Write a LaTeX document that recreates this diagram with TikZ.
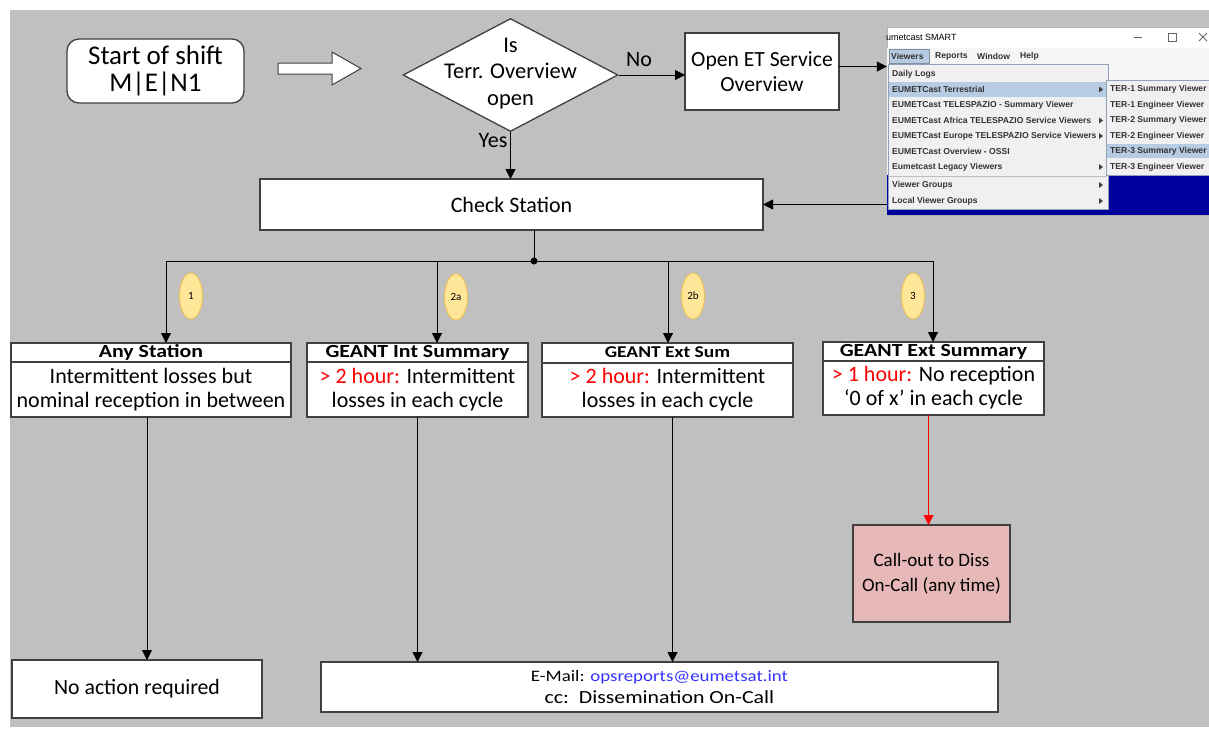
\documentclass[tikz,border=0pt]{standalone}
\usepackage{fontspec}
\setmainfont{Carlito}
\newfontfamily\wideface[FakeStretch=1.18]{Carlito}
\newfontfamily\menufont{Liberation Sans}
\usetikzlibrary{positioning,arrows.meta,shapes.geometric}
\definecolor{sheetgray}{HTML}{C0C0C0}
\definecolor{tagfill}{HTML}{FFE699}
\definecolor{tagdraw}{HTML}{F2C04A}
\definecolor{callfill}{HTML}{E6B8B7}
\definecolor{menublue}{HTML}{B7CBE2}
\definecolor{winblue}{HTML}{00009C}
\definecolor{mailblue}{HTML}{3333FF}
\newcommand{\fsz}[2]{\fontsize{#1}{#2}\selectfont}
\newcommand{\menutri}[1]{\fill[black!75] (1099,#1) ++(0,-3) -- ++(4,3) -- ++(-4,3) -- cycle;}

\begin{document}
\begin{tikzpicture}[x=1pt,y=-1pt,
 box/.style={draw=black!75,line width=1.3pt,fill=white,align=center,inner sep=0pt,outer sep=0pt},
 hd/.style={box,font=\wideface\bfseries\fsz{18.5}{20},text height=13pt,text depth=4pt},
 bd/.style={box,font=\fsz{22}{24}},
 tag/.style={ellipse,draw=tagdraw,fill=tagfill,line width=0.8pt,minimum width=23pt,minimum height=46pt,inner sep=0pt,font=\fsz{11}{12}},
 lbl/.style={font=\fsz{22}{22},inner sep=0pt},
 arr/.style={-{Triangle[length=10pt,width=10pt]},line width=1pt},
 item/.style={anchor=west,inner sep=0pt,font=\menufont\bfseries\fsz{8.6}{9},text=black!80}]
\useasboundingbox (0,0) rectangle (1209,728);
\fill[sheetgray] (10,10) rectangle (1209,727);

% start and decision
\node[box,rounded corners=12pt,minimum width=177pt,minimum height=64pt,font=\fsz{27}{27}] (start) at (155.5,71) {Start of shift\\M|E|N1};
\draw[draw=black!75,fill=white,line width=1pt] (278,63) -- (332,63) -- (332,52) -- (361,68.5) -- (332,85) -- (332,74) -- (278,74) -- cycle;
\node[diamond,draw=black!75,fill=white,line width=1.3pt,minimum width=215pt,minimum height=113pt,inner sep=0pt] (isopen) at (510.5,75) {};
\node[font=\fsz{22.5}{26.5},align=center,inner sep=0pt] (isopentxt) at (510.5,73.5) {Is\\Terr. Overview\\open};
\node[box,minimum width=154pt,minimum height=77pt,font=\fsz{21.6}{25}] (openet) at (762,71.5) {Open ET Service\\Overview};
\draw[arr] (isopen.east) -- (isopen.east -| openet.west);
\node[lbl] (nolbl) at (639,60) {No};

% screenshot of the SMART menu
\node[draw=black!30,fill=white,minimum width=322pt,minimum height=188pt,inner sep=0pt] (shot) at (1048,121) {};
\begin{scope}
\clip (shot.south west) rectangle (shot.north east);
\fill[black!4] (887,48) rectangle (1209,215);
\node[anchor=west,inner sep=0pt,font=\menufont\fsz{9}{10}] (wintitle) at (881,37) {eumetcast SMART};
\draw[black!60,line width=0.8pt] (1134,37) -- (1142,37);
\draw[black!60,line width=0.8pt] (1168,33) rectangle (1176,41);
\draw[black!60,line width=0.8pt] (1199,33) -- (1207,41) (1199,41) -- (1207,33);
\draw[fill=menublue,draw=menublue!70!black] (889,49) rectangle (929,63);
\node[item] (mviewers) at (891,56) {Viewers}; \node[item] (mreports) at (935,56) {Reports};
\node[item] (mwindow) at (977,56) {Window}; \node[item] (mhelp) at (1020,56) {Help};
\fill[winblue] (887,175) rectangle (1209,215);
\draw[fill=black!6,draw=menublue!80!black] (888,64) rectangle (1108,209);
\fill[menublue] (889,82) rectangle (1107,97);
\draw[black!25] (889,176) -- (1107,176);
\node[item] (mlogs) at (892,74) {Daily Logs};
\node[item] (mterr) at (892,89.5) {EUMETCast Terrestrial};
\node[item] (mtele) at (892,105) {EUMETCast TELESPAZIO - Summary Viewer};
\node[item] (mafrica) at (892,120.5) {EUMETCast Africa TELESPAZIO Service Viewers};
\node[item] (meurope) at (892,136) {EUMETCast Europe TELESPAZIO Service Viewers};
\node[item] (mossi) at (892,151.5) {EUMETCast Overview - OSSI};
\node[item] (mlegacy) at (892,167) {Eumetcast Legacy Viewers};
\node[item] (mgroups) at (892,185) {Viewer Groups};
\node[item] (mlocal) at (892,201) {Local Viewer Groups};
\menutri{89.5} \menutri{120.5} \menutri{136} \menutri{167} \menutri{185} \menutri{201}
\draw[fill=black!6,draw=menublue!80!black] (1106,80) rectangle (1215,175);
\fill[menublue] (1107,144) rectangle (1215,158);
\node[item] (ter1s) at (1110,89.5) {TER-1 Summary Viewer};
\node[item] (ter1e) at (1110,105) {TER-1 Engineer Viewer};
\node[item] (ter2s) at (1110,120.5) {TER-2 Summary Viewer};
\node[item] (ter2e) at (1110,136) {TER-2 Engineer Viewer};
\node[item] (ter3s) at (1110,151.5) {TER-3 Summary Viewer};
\node[item] (ter3e) at (1110,167) {TER-3 Engineer Viewer};
\end{scope}
\draw[arr] ([yshift=5pt]openet.east) -- ([yshift=5pt]openet.east -| shot.west);

% check station and the four branches
\node[box,minimum width=503pt,minimum height=51pt,font=\fsz{22}{22}] (check) at (511.5,204.5) {Check Station};
\draw[arr] (isopen.south) -- (isopen.south |- check.north);
\node[lbl] (yeslbl) at (493,141) {Yes};
\draw[arr] (shot.west |- check.east) -- (check.east);
\coordinate (jn) at (534,261);
\coordinate (bus1) at (166,261); \coordinate (bus2a) at (437,261);
\coordinate (bus2b) at (668,261); \coordinate (bus3) at (933,261);
\draw[line width=1pt] (check.south -| jn) -- (jn); \fill (jn) circle (3.5pt);
\draw[line width=1pt] (bus1) -- (bus3);

\node[hd,minimum width=280pt,minimum height=19pt] (anyhd) at (151,352.5) {Any Station};
\node[bd,minimum width=280pt,minimum height=55pt,below=0pt of anyhd] (anybd) {Intermittent losses but\\nominal reception in between};
\node[hd,minimum width=221pt,minimum height=19pt] (inthd) at (417.5,352.5) {GEANT Int Summary};
\node[bd,minimum width=221pt,minimum height=55pt,below=0pt of inthd] (intbd) {\textcolor{red}{> 2 hour:} Intermittent\\losses in each cycle};
\node[hd,font=\wideface\bfseries\fsz{16.5}{18},minimum width=251pt,minimum height=20pt] (exthd) at (667.5,353) {GEANT Ext Sum};
\node[bd,minimum width=251pt,minimum height=54pt,below=0pt of exthd] (extbd) {\textcolor{red}{> 2 hour:} Intermittent\\losses in each cycle};
\node[hd,minimum width=221pt,minimum height=19pt] (xshd) at (933.5,351.5) {GEANT Ext Summary};
\node[bd,minimum width=221pt,minimum height=54pt,below=0pt of xshd] (xsbd) {\textcolor{red}{> 1 hour:} No reception\\‘0 of x’ in each cycle};

\draw[arr] (bus1) -- (bus1 |- anyhd.north);
\draw[arr] (bus2a) -- (bus2a |- inthd.north);
\draw[arr] (bus2b) -- (bus2b |- exthd.north);
\draw[arr] (bus3) -- (bus3 |- xshd.north);
\node[tag] (tag1) at (191,296) {1}; \node[tag] (tag2a) at (456,297) {2a};
\node[tag] (tag2b) at (693,296) {2b}; \node[tag] (tag3) at (913,296) {3};

% outcomes
\node[box,minimum width=250pt,minimum height=58pt,font=\fsz{21.8}{22}] (noact) at (137,689) {No action required};
\node[box,minimum width=677pt,minimum height=50pt,font=\wideface\fsz{16}{22}] (mail) at (659.5,687) {E-Mail: \textcolor{mailblue}{opsreports@eumetsat.int}\\{\fsz{18.5}{22}cc:\ \ Dissemination On-Call}};
\node[box,fill=callfill,minimum width=157pt,minimum height=97pt,font=\fsz{19}{25}] (callout) at (931.5,573.5) {Call-out to Diss\\On-Call (any time)};
\draw[arr] ([xshift=-4pt]anybd.south) -- ([xshift=-4pt]anybd.south |- noact.north);
\draw[arr] (intbd.south) -- (intbd.south |- mail.north);
\draw[arr] ([xshift=5pt]extbd.south) -- ([xshift=5pt]extbd.south |- mail.north);
\draw[arr,red] ([xshift=-5pt]xsbd.south) -- ([xshift=-5pt]xsbd.south |- callout.north);
\end{tikzpicture}
\end{document}
